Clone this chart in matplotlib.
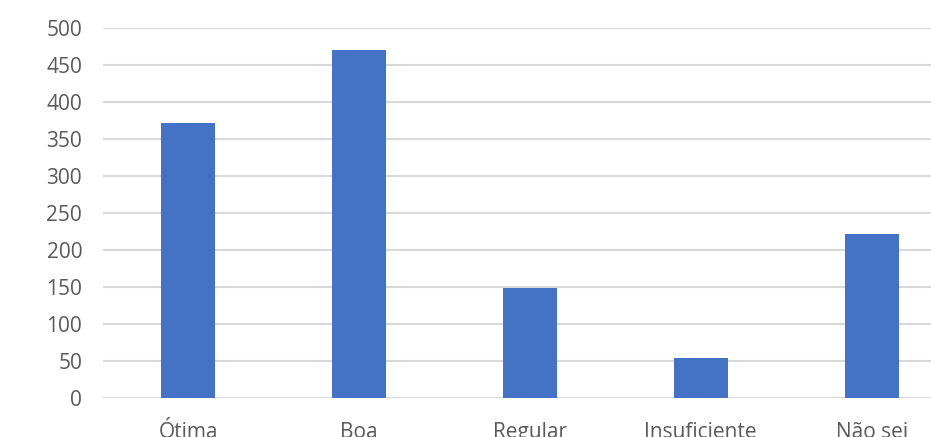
import matplotlib
matplotlib.use("Agg")
import matplotlib.pyplot as plt

categories = ["Ótima", "Boa", "Regular", "Insuficiente", "Não sei"]
values = [372, 470, 149, 54, 222]
yticks = [0, 50, 100, 150, 200, 250, 300, 350, 400, 450, 500]

W, H = 931, 437
fig = plt.figure(figsize=(W / 100, H / 100), dpi=100)
left, right, bottom, top = 103, 957, 398, 28
ax = fig.add_axes([left / W, (H - bottom) / H, (right - left) / W, (bottom - top) / H])

x = list(range(len(categories)))
ax.bar(x, values, width=0.316, color="#4472C4", zorder=3)
ax.set_xlim(-0.5, len(categories) - 0.5)
ax.set_ylim(0, 500)
ax.set_yticks(yticks)
ax.set_xticks(x)
ax.set_xticklabels(categories)
ax.grid(axis="y", color="#d9d9d9", linewidth=1.5, zorder=0)
ax.set_axisbelow(True)
for s in ax.spines.values():
    s.set_visible(False)
ax.tick_params(axis="both", length=0, colors="#595959", labelsize=15)
ax.tick_params(axis="y", pad=15)
ax.tick_params(axis="x", pad=17)
for lab in ax.get_xticklabels() + ax.get_yticklabels():
    lab.set_fontfamily("Open Sans")
fig.savefig("out.png", dpi=100)
